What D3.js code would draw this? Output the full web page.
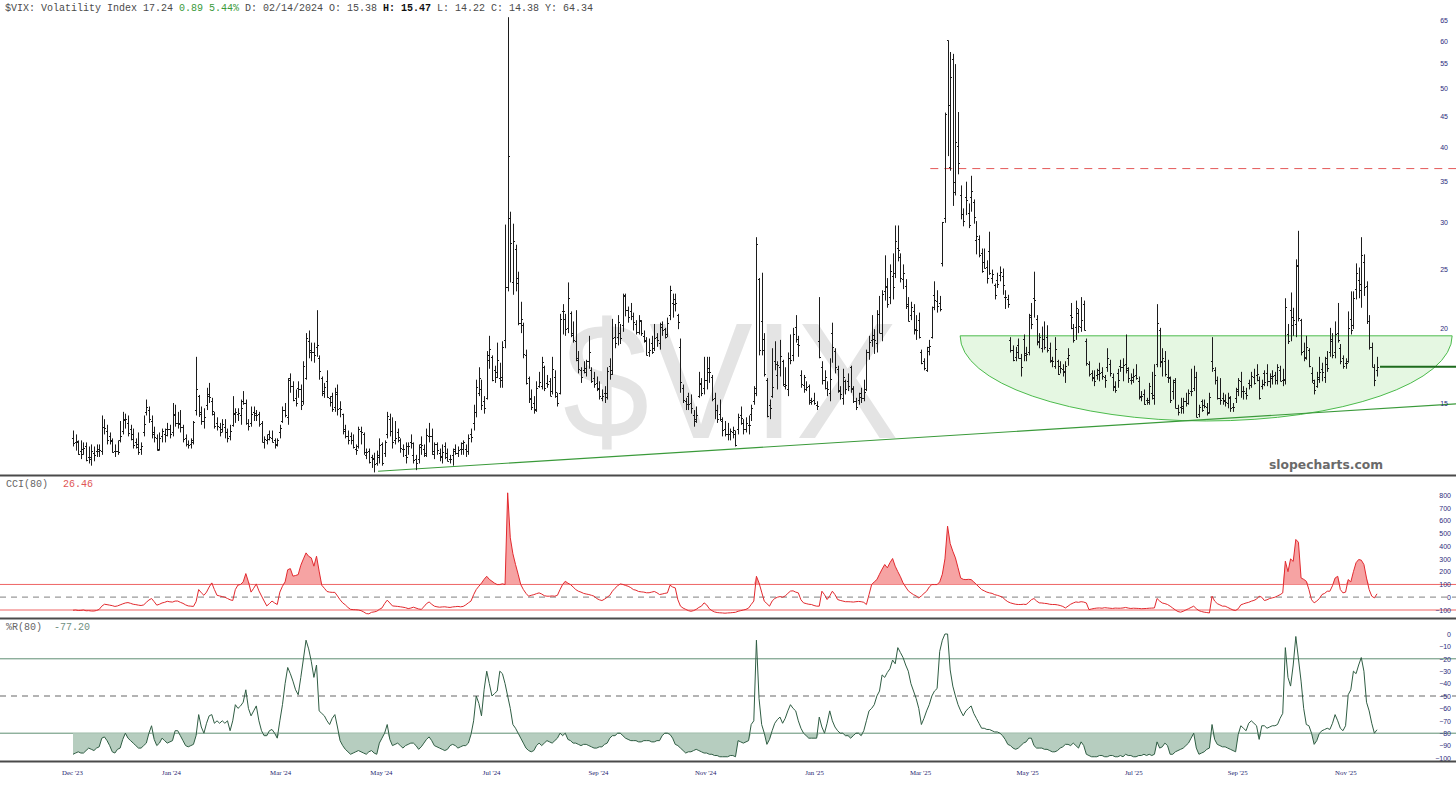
<!DOCTYPE html>
<html><head><meta charset="utf-8">
<script src="https://cdn.jsdelivr.net/npm/d3@7/dist/d3.min.js"></script>
<style>body{margin:0;background:#fff;}svg{display:block;}</style>
</head><body>
<svg id="chart" width="1456" height="787"></svg>
<script>
// ---------- DATA (daily VIX bars, Dec 5 2023 .. Dec 1 2025) ----------
const opens = [
/*Dec23*/13.1,12.9,12.9,12.5,12.6,12.7,12.2,12.1,12.4,12.5,12.5,12.5,13.7,13.5,13.2,13.0,12.5,12.5,
/*Jan24*/13.0,13.5,14.1,13.9,13.6,13.3,12.9,12.8,12.6,13.4,14.5,14.6,14.0,13.4,13.1,12.6,13.2,13.3,13.6,13.6,13.4,
/*Feb24*/14.4,13.9,13.9,13.7,13.1,12.8,12.8,13.0,14.6,15.38,14.5,14.0,14.9,15.5,15.1,14.4,13.9,13.7,13.6,13.7,
/*Mar24*/13.4,13.2,13.8,14.4,14.4,14.3,15.1,15.0,13.9,13.9,14.5,14.3,14.4,13.9,12.9,13.0,13.3,13.1,13.0,12.8,
/*Apr24*/13.4,14.0,14.6,14.2,16.5,16.0,15.3,15.9,15.8,15.1,16.5,19.0,18.2,18.2,18.6,17.8,16.5,15.6,16.3,15.3,15.4,14.8,
/*May24*/15.5,14.7,14.4,13.6,13.2,13.2,13.0,12.6,12.7,13.5,13.3,12.3,12.5,12.2,12.1,11.9,12.2,12.8,12.4,13.3,14.1,13.5,
/*Jun24*/13.0,13.4,13.0,12.6,12.3,12.7,12.9,12.3,12.1,12.1,12.8,12.6,12.4,13.2,13.2,12.5,12.8,12.4,12.2,
/*Jul24*/12.7,12.4,12.1,12.3,12.6,12.4,12.6,12.6,12.6,12.5,13.3,13.9,14.5,15.6,15.8,15.1,15.3,17.7,17.9,17.0,16.9,16.5,
/*Aug24*/16.6,19.1,23.4,30.5,23.8,27.0,24.2,20.4,20.2,18.0,16.5,15.3,15.0,14.6,16.0,16.0,17.2,16.2,16.3,15.7,16.6,15.4,
/*Sep24*/15.6,21.3,20.7,20.0,21.2,19.6,19.0,17.8,17.0,17.0,16.9,17.6,17.0,16.5,16.2,15.8,15.3,15.6,15.6,17.3,
/*Oct24*/17.0,19.3,19.3,19.6,20.2,22.6,21.4,21.3,20.9,20.3,19.7,20.5,19.4,19.0,18.2,18.9,18.5,19.3,18.9,20.1,19.9,19.5,21.0,
/*Nov24*/22.0,22.3,21.0,18.6,15.9,15.1,15.4,15.0,14.3,14.1,15.4,16.2,15.9,16.4,16.9,16.6,15.3,14.6,14.4,14.0,
/*Dec24*/13.6,13.3,13.3,13.4,13.3,13.6,14.3,13.9,13.6,13.8,14.4,15.1,15.6,24.1,20.5,19.2,16.4,14.9,15.4,17.6,16.7,
/*Jan25*/17.2,17.6,16.0,15.8,17.8,18.0,20.1,18.8,16.7,16.1,15.8,16.0,15.2,15.2,14.9,19.0,17.2,16.4,15.9,15.6,
/*Feb25*/19.6,18.3,17.1,15.7,15.3,16.3,16.3,17.2,15.8,15.1,15.2,15.6,15.3,15.8,18.2,19.1,19.2,18.9,21.1,
/*Mar25*/19.6,23.0,23.4,22.5,24.4,24.7,27.2,26.2,24.1,23.5,21.9,21.0,21.3,19.8,20.6,18.2,17.6,17.0,18.6,19.3,22.7,
/*Apr25*/22.2,22.0,25.6,30.5,60.1,37.0,56.0,35.0,40.2,33.3,30.9,33.0,31.0,33.0,32.4,28.0,28.1,26.6,25.7,25.2,26.8,
/*May25*/24.2,23.6,24.0,24.5,24.4,22.5,22.3,19.1,18.4,17.9,18.7,17.8,19.2,18.0,18.2,21.0,22.4,20.7,19.0,18.5,19.2,
/*Jun25*/19.3,18.5,17.6,17.3,17.6,17.3,17.1,16.9,17.8,21.0,20.0,20.1,21.2,20.1,21.9,19.0,17.4,16.8,16.5,16.7,
/*Jul25*/17.0,16.9,16.6,17.2,17.4,16.6,16.0,16.8,17.3,17.2,17.4,17.0,16.4,16.6,16.7,16.3,15.4,15.5,15.2,15.2,15.6,15.3,
/*Aug25*/17.4,19.8,17.6,17.6,16.6,16.5,15.7,16.4,14.7,14.8,14.7,15.1,15.0,15.7,15.9,16.6,14.4,15.1,14.9,14.8,14.5,
/*Sep25*/17.6,17.0,16.4,15.3,15.3,15.2,15.0,15.3,14.8,15.3,15.8,16.3,15.7,15.6,16.2,16.1,16.6,16.7,16.4,16.0,16.8,
/*Oct25*/16.8,16.3,16.5,16.7,16.4,17.0,16.4,16.4,19.5,21.4,20.2,20.3,25.4,20.6,18.3,17.8,18.4,16.8,16.2,16.0,16.6,17.1,16.6,
/*Nov25*/17.8,18.2,19.2,18.2,19.6,18.5,17.8,17.5,17.6,20.7,20.2,23.2,24.0,23.1,25.7,23.5,20.5,18.6,17.2,17.0
];
const highs = [
/*Dec23*/13.5,13.3,13.0,13.0,12.9,12.9,12.7,12.8,12.7,12.8,12.8,14.3,14.1,13.8,13.4,13.1,12.8,13.0,
/*Jan24*/14.0,14.5,14.4,14.3,13.8,13.6,13.1,13.4,12.9,14.3,15.2,14.8,14.3,13.7,13.3,13.4,13.6,13.6,13.9,13.8,15.0,
/*Feb24*/14.9,14.5,14.6,13.8,13.3,13.0,13.1,14.0,17.9,15.47,14.8,14.7,15.9,16.2,15.3,14.5,14.2,13.9,14.1,14.1,
/*Mar24*/13.6,13.8,15.4,14.7,14.7,15.2,15.7,15.2,14.1,14.8,14.8,14.6,14.5,14.0,13.2,13.3,13.5,13.5,13.1,13.1,
/*Apr24*/13.8,14.8,15.0,16.5,16.8,16.3,15.8,16.3,16.1,17.6,19.6,19.8,18.9,18.9,21.4,18.0,16.6,16.2,17.0,15.4,15.6,15.9,
/*May24*/16.1,15.1,14.4,13.8,13.5,13.4,13.3,12.8,13.7,13.7,13.4,12.6,12.6,12.3,12.4,12.5,13.1,12.9,13.0,14.5,14.4,14.2,
/*Jun24*/14.0,13.6,13.1,12.8,12.9,12.9,13.3,12.9,12.3,12.8,13.2,12.8,13.6,13.9,13.6,12.9,12.9,12.6,12.8,
/*Jul24*/12.9,12.6,12.3,12.6,12.8,12.7,12.9,13.0,12.8,13.3,13.6,14.9,16.4,17.2,16.4,15.4,18.3,19.4,18.0,17.3,18.9,17.5,
/*Aug24*/19.0,29.7,65.7,31.2,29.8,27.5,24.8,22.1,20.4,18.4,16.6,15.8,15.4,16.3,16.9,17.9,17.3,16.7,16.5,17.9,17.0,15.6,
/*Sep24*/21.1,21.9,21.1,23.8,21.3,20.5,21.4,18.3,17.2,17.6,17.7,19.4,17.2,16.9,16.6,16.3,15.8,16.0,17.2,17.8,
/*Oct24*/20.7,20.3,21.0,20.3,22.8,22.8,21.7,22.0,21.2,20.6,21.0,20.6,19.8,19.3,19.2,19.4,20.3,19.6,20.4,20.5,20.0,20.8,23.5,
/*Nov24*/22.8,22.8,21.1,19.2,16.1,15.3,15.6,15.5,14.6,14.8,16.9,16.5,17.9,17.9,17.9,16.7,15.6,14.9,15.2,14.2,
/*Dec24*/14.0,13.9,13.6,13.7,13.5,14.4,14.8,14.1,14.2,14.3,14.9,16.0,28.3,24.2,24.7,19.6,16.5,15.2,18.5,19.0,17.6,
/*Jan25*/19.1,17.7,17.2,18.2,19.5,20.0,21.0,19.4,17.0,16.7,16.3,16.1,15.3,15.6,15.1,22.5,17.6,17.0,16.3,17.8,
/*Feb25*/20.4,18.5,17.3,16.0,17.1,16.4,16.8,17.3,16.0,15.3,15.6,15.9,16.4,18.4,19.4,21.0,19.9,21.4,22.6,
/*Mar25*/23.1,26.4,24.2,25.5,26.6,29.6,29.6,26.6,25.5,24.1,22.5,22.1,21.9,21.0,21.2,18.4,17.8,18.6,19.1,21.7,23.9,
/*Apr25*/23.1,22.6,30.0,45.6,60.1,57.5,57.1,54.9,45.7,34.5,31.6,35.0,32.2,35.8,32.7,30.1,28.5,27.1,27.1,25.9,28.9,
/*May25*/25.0,23.7,24.7,25.3,25.1,23.1,22.7,19.3,18.7,18.6,19.2,18.1,19.5,18.6,21.1,22.0,24.8,21.0,19.6,20.1,20.5,
/*Jun25*/20.2,18.9,17.9,19.3,17.7,17.6,17.4,17.6,18.5,22.0,20.3,22.2,21.5,22.5,22.2,19.2,17.6,17.0,17.0,17.1,
/*Jul25*/17.5,17.2,16.7,18.5,17.7,16.8,16.3,17.1,17.7,17.8,19.5,17.2,16.8,17.1,17.4,16.6,15.7,15.8,15.3,16.2,16.9,17.4,
/*Aug25*/21.9,20.0,18.5,18.3,17.7,16.6,16.4,16.5,14.9,15.3,15.3,15.6,15.8,17.1,17.3,16.9,14.9,15.2,15.2,15.0,15.6,
/*Sep25*/19.3,17.2,16.6,16.5,15.6,15.5,15.6,15.4,15.0,15.9,16.5,16.9,16.0,15.9,16.4,16.9,17.1,17.4,16.6,16.4,17.0,
/*Oct25*/17.4,16.8,17.0,16.9,17.4,17.3,17.1,22.4,20.3,22.9,21.6,26.0,29.0,20.7,18.9,19.4,18.5,17.2,16.4,16.9,17.9,17.5,17.9,
/*Nov25*/18.3,20.0,19.6,20.5,22.0,18.8,18.0,17.8,21.3,23.0,23.0,25.6,25.2,28.3,26.5,23.9,21.0,18.9,17.4,17.9
];
const lows = [
/*Dec23*/12.7,12.5,12.3,12.1,12.3,12.0,11.9,11.8,12.0,12.2,12.2,12.3,13.3,12.8,12.8,12.4,12.2,12.3,
/*Jan24*/12.9,13.3,13.6,13.2,13.0,12.6,12.6,12.3,12.3,13.2,14.3,13.9,13.1,12.9,12.5,12.5,12.9,12.9,13.2,13.1,13.2,
/*Feb24*/13.7,13.6,13.4,12.9,12.7,12.6,12.6,12.8,14.3,14.22,13.8,13.6,14.6,15.0,14.3,13.6,13.5,13.2,13.4,13.1,
/*Mar24*/12.9,13.0,13.7,13.9,14.0,13.8,14.9,13.8,13.5,13.7,14.0,14.0,13.7,12.9,12.6,12.8,13.0,12.9,12.6,12.7,
/*Apr24*/13.1,13.9,14.2,13.8,15.6,15.1,14.8,15.3,14.6,14.9,16.4,17.8,17.6,17.5,17.9,16.4,15.4,15.3,15.3,14.8,14.5,14.5,
/*May24*/14.3,14.2,13.3,13.1,12.8,12.8,12.6,12.3,12.6,12.8,12.3,12.1,11.9,11.7,11.5,11.8,11.9,11.8,12.2,13.1,13.2,12.6,
/*Jun24*/12.8,12.9,12.4,12.2,11.9,12.3,12.6,11.9,11.6,11.9,12.3,12.2,12.2,12.9,12.3,12.1,12.3,12.0,11.9,
/*Jul24*/12.1,12.0,11.9,11.8,12.3,12.2,12.3,12.3,12.2,12.3,12.9,13.5,14.2,15.4,14.6,14.4,15.2,17.1,16.3,16.2,16.5,15.9,
/*Aug24*/15.9,18.5,23.0,23.8,22.7,23.0,20.2,19.6,17.8,16.1,15.0,14.6,14.4,14.5,15.9,15.8,15.7,15.9,15.4,15.5,15.3,14.8,
/*Sep24*/15.5,19.5,19.4,19.6,19.3,18.9,17.6,16.8,16.2,16.8,16.6,17.1,16.2,15.9,15.7,15.2,15.1,15.0,15.2,16.4,
/*Oct24*/16.7,18.5,18.7,18.8,19.7,20.9,20.4,20.6,19.8,19.5,19.5,19.4,18.9,18.0,17.9,18.1,18.3,18.6,18.4,19.4,19.2,19.3,20.6,
/*Nov24*/20.8,21.3,19.9,15.6,15.0,14.6,14.6,14.4,13.7,13.9,15.3,15.4,15.5,15.8,16.2,15.1,14.1,13.9,14.0,13.2,
/*Dec24*/13.2,13.0,13.0,13.1,12.7,13.3,13.8,13.3,13.4,13.3,14.0,14.9,15.4,18.0,18.0,16.6,14.2,14.1,15.3,17.0,15.8,
/*Jan25*/16.6,16.0,15.8,15.4,17.4,17.6,18.9,17.9,15.9,15.6,15.7,14.9,14.9,14.9,14.6,17.8,16.1,15.8,15.4,15.1,
/*Feb25*/17.5,16.8,15.6,15.2,14.9,15.5,15.7,15.6,15.0,14.6,14.9,15.0,15.1,15.7,17.7,18.6,18.1,18.2,19.6,
/*Mar25*/19.0,22.2,21.6,21.9,22.3,24.2,25.8,23.8,23.2,21.5,20.5,20.6,19.5,19.1,19.2,17.4,17.0,16.9,18.0,19.2,21.4,
/*Apr25*/21.2,21.3,25.3,29.9,38.6,36.5,31.9,33.2,36.0,30.3,29.5,30.8,29.3,31.2,29.8,26.5,26.2,24.7,25.1,23.7,24.5,
/*May25*/23.7,22.3,23.3,23.9,22.7,21.5,21.6,18.2,17.6,17.6,17.8,16.6,17.6,17.6,18.0,19.9,20.8,18.7,18.5,18.2,18.4,
/*Jun25*/18.2,17.5,17.2,17.1,16.7,16.8,16.6,16.2,17.3,19.9,18.9,19.1,19.6,19.7,19.8,17.3,16.6,16.3,16.0,16.4,
/*Jul25*/16.3,16.4,15.9,16.9,16.6,15.7,15.6,15.9,16.9,16.3,16.8,16.2,16.1,16.2,16.4,15.2,15.1,14.9,14.9,14.9,15.2,14.9,
/*Aug25*/17.2,17.2,16.6,16.6,16.2,15.0,15.2,14.7,14.3,14.4,14.4,14.8,14.9,15.4,15.7,14.2,14.2,14.5,14.7,14.3,14.4,
/*Sep25*/16.9,16.1,15.2,14.9,14.9,14.8,14.7,14.5,14.5,15.0,15.4,15.3,15.2,15.2,15.8,15.9,16.1,16.3,15.2,15.8,16.0,
/*Oct25*/16.0,15.9,16.1,16.1,16.1,16.3,16.0,16.1,18.8,19.0,19.4,19.3,20.5,18.0,17.6,17.7,17.2,16.2,15.5,15.9,16.2,16.3,16.2,
/*Nov25*/16.9,17.9,17.8,17.8,18.9,17.4,17.1,17.1,17.5,19.5,19.9,22.3,22.4,21.6,22.6,20.3,18.4,17.2,16.0,16.6
];
const closes = [
/*Dec23*/12.85,12.97,12.35,12.35,12.63,12.07,12.19,12.48,12.28,12.56,12.53,13.67,13.65,13.03,12.99,12.43,12.47,12.45,
/*Jan24*/13.20,14.04,14.13,13.35,13.08,12.76,12.69,12.44,12.70,13.84,14.79,14.13,13.30,13.19,12.55,13.14,13.45,13.26,13.60,13.31,14.35,
/*Feb24*/13.88,13.85,13.67,13.06,12.83,12.79,12.93,13.93,15.85,14.38,14.01,14.24,15.42,15.34,14.54,13.75,13.74,13.43,13.84,13.40,
/*Mar24*/13.11,13.49,14.46,14.50,14.44,14.74,15.01,13.88,13.75,14.40,14.41,14.33,13.82,12.92,13.06,13.06,13.19,12.94,12.78,13.01,
/*Apr24*/13.65,14.61,14.33,16.35,16.03,15.19,14.98,15.80,14.91,17.31,19.23,18.40,18.21,18.00,18.71,16.94,15.69,15.97,15.37,15.03,14.67,15.65,
/*May24*/14.68,14.68,13.49,13.23,13.00,13.00,12.69,12.55,13.60,13.42,12.45,12.42,11.99,12.15,11.86,12.29,12.77,11.93,12.92,14.28,13.49,12.92,
/*Jun24*/13.11,13.16,12.63,12.58,12.22,12.74,12.85,12.04,11.94,12.66,12.75,12.30,13.28,13.20,12.33,12.84,12.55,12.24,12.44,
/*Jul24*/12.22,12.03,12.09,12.48,12.37,12.51,12.85,12.91,12.46,13.12,13.19,14.48,15.93,16.52,14.91,14.72,18.04,18.46,16.39,16.60,17.69,16.36,
/*Aug24*/18.59,23.39,38.57,27.71,27.85,23.79,20.37,20.71,18.12,16.19,15.23,14.80,14.65,15.88,16.27,17.55,15.86,16.15,15.43,17.11,15.65,15.00,
/*Sep24*/20.72,21.32,19.90,22.38,19.45,19.08,17.69,17.07,16.56,17.14,17.61,18.23,16.33,16.15,15.89,15.39,15.41,15.37,16.96,16.73,
/*Oct24*/19.26,18.90,20.49,19.21,22.64,21.42,20.86,20.93,20.46,19.70,20.64,19.58,19.11,18.03,18.37,18.20,19.24,19.08,20.33,19.80,19.34,20.35,23.16,
/*Nov24*/21.88,21.98,20.49,16.27,15.20,14.94,14.97,14.71,14.02,14.31,16.14,15.58,16.35,17.16,16.87,15.24,14.60,14.10,14.10,13.51,
/*Dec24*/13.34,13.30,13.45,13.54,12.77,14.19,14.18,13.58,13.92,13.81,14.69,15.87,27.62,18.36,18.36,16.78,14.27,14.73,15.95,17.40,17.35,
/*Jan25*/17.93,16.13,16.04,17.82,17.70,19.54,19.19,18.71,16.12,16.60,15.97,15.06,15.10,15.02,14.85,17.90,16.41,16.56,15.84,16.43,
/*Feb25*/18.62,17.21,15.77,15.50,16.54,15.81,16.02,15.89,15.10,14.77,15.35,15.27,15.66,18.21,18.98,19.43,19.10,21.13,19.63,
/*Mar25*/22.78,23.51,21.93,24.87,23.37,27.86,26.92,24.23,24.66,21.77,20.51,21.70,19.90,19.80,19.28,17.48,17.15,18.33,18.69,21.65,22.28,
/*Apr25*/21.77,21.51,30.02,45.31,46.98,52.33,33.62,40.72,37.56,30.89,30.12,32.64,29.65,33.82,30.57,28.45,26.47,24.84,25.15,24.17,24.70,
/*May25*/24.60,22.68,23.64,24.76,23.55,22.48,21.90,18.39,17.71,18.22,17.83,17.24,18.14,18.09,20.87,20.28,22.29,18.96,19.31,19.18,18.57,
/*Jun25*/18.36,17.69,17.61,18.48,16.77,17.16,16.95,17.26,18.02,20.82,19.11,21.60,20.14,20.62,19.83,17.48,16.76,16.59,16.32,16.73,
/*Jul25*/16.83,16.64,16.38,17.79,16.81,15.94,15.78,16.40,17.20,17.38,17.16,16.52,16.41,16.65,16.50,15.37,15.39,14.93,15.03,15.98,15.48,16.72,
/*Aug25*/20.38,17.52,17.85,16.77,16.57,15.15,16.25,14.73,14.49,14.83,15.09,14.99,15.57,15.69,16.60,14.22,14.79,14.62,14.85,14.43,15.36,
/*Sep25*/17.17,16.35,15.30,15.18,15.11,15.04,15.35,14.71,14.76,15.69,16.36,15.72,15.70,15.45,16.10,16.64,16.18,16.74,15.29,16.12,16.28,
/*Oct25*/16.29,16.63,16.65,16.37,17.24,16.30,16.43,21.66,19.03,20.81,20.64,25.31,20.78,18.23,17.87,18.60,17.30,16.37,15.79,16.42,16.92,16.91,17.44,
/*Nov25*/17.17,19.00,18.01,19.50,19.08,17.60,17.28,17.51,20.00,19.83,22.38,24.69,23.66,26.42,23.43,20.52,18.56,17.19,16.35,17.24
];
// CCI(80), one value per bar
const cci = [
-102,-100,-104,-103,-100,-106,-105,-108,-108,-104,-95,-70,-55,-58,-62,-66,-72,-68,-60,-52,
-45,-42,-48,-55,-58,-62,-65,-60,-40,-22,-10,-35,-62,-55,-45,-40,-32,-36,-38,-30,
-30,-40,-48,-60,-68,-70,-72,-35,60,35,15,40,80,112,60,15,10,5,0,-10,
-20,-26,60,95,100,120,185,120,40,70,104,50,10,-30,-68,-50,-30,-45,-57,40,
86,120,215,224,165,170,177,250,300,347,320,308,243,321,204,94,70,45,40,38,
38,10,-20,-44,-60,-80,-95,-97,-98,-100,-105,-115,-128,-130,-118,-115,-110,-95,-84,-50,
-23,-45,-68,-70,-72,-75,-78,-82,-89,-85,-78,-85,-92,-95,-75,-50,-37,-55,-70,-75,
-78,-76,-75,-78,-80,-76,-74,-72,-75,-72,-60,-44,-30,20,60,86,110,140,164,140,
125,110,99,99,105,99,817,465,340,256,180,99,60,30,8,15,20,28,34,25,
12,8,8,10,8,15,60,100,125,110,99,80,60,47,40,30,25,21,15,8,
-10,-20,-26,-15,0,15,47,70,90,104,100,92,86,75,60,55,45,42,40,35,
35,40,45,35,21,25,30,34,94,80,73,-20,-70,-85,-95,-105,-110,-105,-95,-80,
-70,-44,-60,-90,-105,-115,-120,-122,-123,-125,-123,-122,-120,-118,-110,-105,-100,-95,-85,-57,
-30,164,112,40,-31,-50,-70,-30,-10,0,5,0,10,30,48,50,40,34,-20,-44,
-50,-55,-57,-65,-70,-70,47,20,-18,10,47,20,-18,-25,-30,-35,-35,-36,-38,-35,
-33,-35,-40,-57,20,99,120,138,180,220,256,230,270,303,243,200,160,112,80,50,
34,20,10,-5,10,30,47,80,99,99,99,120,180,300,556,420,360,308,230,151,
140,138,140,138,120,100,80,60,50,40,34,30,20,15,8,0,-20,-35,-44,-50,
-55,-57,-57,-55,-57,-40,-20,-10,-30,-44,-45,-48,-50,-55,-57,-57,-60,-65,-72,-84,
-70,-55,-45,-37,-40,-35,-38,-45,-97,-92,-88,-85,-84,-86,-82,-84,-86,-88,-85,-86,
-86,-84,-80,-85,-88,-86,-87,-88,-90,-89,-88,-86,-85,-84,-10,-30,-45,-50,-57,-70,
-85,-100,-112,-117,-110,-100,-90,-80,-70,-90,-105,-112,-117,-120,-123,8,-30,-50,-60,-70,
-70,-80,-90,-100,-104,-90,-60,-52,-45,-40,-31,-25,-15,8,0,-26,-20,-10,-5,0,
10,20,34,282,200,300,280,452,430,151,140,125,60,-20,-44,-30,-10,21,30,47,
47,90,150,164,60,34,40,138,120,200,270,295,290,256,150,60,8,-5,26.46
];
// Williams %R(80), one value per bar
const pctR = [
-97,-96,-95,-96,-96,-94,-92,-93,-94,-92,-91,-84,-83,-86,-90,-95,-96,-93,-92,-85,
-80,-84,-86,-88,-90,-92,-92,-90,-88,-80,-74,-85,-90,-88,-84,-86,-88,-87,-86,-78,
-78,-82,-86,-90,-91,-90,-89,-82,-65,-75,-80,-72,-66,-65,-72,-70,-72,-70,-72,-70,
-78,-70,-57,-60,-58,-55,-45,-60,-66,-62,-58,-70,-78,-82,-82,-78,-77,-80,-84,-70,
-57,-40,-27,-32,-38,-45,-49,-35,-20,-5,-12,-22,-35,-25,-62,-64,-66,-70,-73,-68,
-65,-75,-86,-90,-93,-95,-97,-96,-95,-94,-95,-96,-97,-95,-94,-96,-97,-88,-84,-80,
-73,-85,-90,-89,-88,-90,-92,-90,-89,-88,-88,-90,-93,-91,-88,-85,-83,-86,-90,-91,
-92,-93,-94,-93,-90,-89,-90,-92,-91,-90,-90,-88,-81,-70,-50,-56,-66,-45,-30,-40,
-50,-48,-46,-30,-32,-40,-50,-60,-73,-76,-80,-84,-88,-92,-94,-95,-94,-90,-88,-90,
-88,-86,-87,-88,-86,-84,-80,-82,-80,-85,-86,-88,-88,-89,-90,-89,-89,-90,-91,-92,
-92,-91,-91,-89,-88,-84,-82,-82,-80,-80,-82,-84,-85,-86,-86,-86,-87,-87,-86,-86,
-86,-87,-87,-86,-86,-82,-80,-80,-81,-84,-89,-90,-92,-94,-96,-95,-95,-94,-93,-94,
-95,-96,-96,-97,-97,-98,-98,-99,-99,-99,-99,-98,-98,-99,-86,-87,-88,-87,-86,-73,
-70,-5,-52,-73,-80,-89,-85,-78,-72,-69,-67,-72,-68,-62,-57,-60,-62,-70,-76,-80,
-82,-84,-84,-84,-84,-67,-75,-80,-72,-62,-70,-75,-78,-80,-80,-82,-82,-84,-82,-80,
-80,-82,-78,-70,-62,-60,-57,-50,-46,-33,-35,-31,-28,-21,-24,-11,-15,-19,-25,-30,
-40,-46,-52,-60,-73,-68,-62,-57,-50,-46,-44,-14,-5,0,0,-29,-42,-50,-57,-62,
-66,-62,-60,-58,-64,-68,-72,-76,-76,-77,-77,-78,-79,-79,-80,-82,-85,-89,-90,-92,
-93,-92,-90,-88,-87,-84,-84,-90,-92,-92,-92,-93,-93,-94,-95,-95,-94,-92,-91,-89,
-89,-90,-88,-90,-92,-87,-90,-97,-98,-99,-99,-99,-98,-98,-99,-99,-98,-98,-99,-99,
-98,-99,-97,-98,-98,-99,-99,-98,-98,-97,-98,-97,-98,-97,-87,-92,-91,-88,-90,-97,
-97,-95,-94,-93,-92,-90,-88,-84,-80,-92,-97,-96,-95,-93,-92,-73,-85,-89,-90,-91,
-91,-92,-93,-94,-95,-81,-74,-76,-78,-72,-70,-72,-74,-85,-74,-74,-76,-75,-74,-74,
-73,-68,-64,-11,-35,-42,-25,-2,-20,-38,-60,-73,-74,-80,-89,-86,-80,-78,-77,-76,
-77,-72,-65,-70,-76,-78,-74,-49,-45,-30,-32,-25,-19,-30,-55,-62,-72,-80,-77.2
];
const priceTicks = [15,20,25,30,35,40,45,50,55,60,65];
const cciTicks = [800,700,600,500,400,300,200,100,0,-100];
const pctRTicks = [0,-10,-20,-30,-40,-50,-60,-70,-80,-90,-100];
const monthLabels = ["Dec '23","Jan '24","Mar '24","May '24","Jul '24","Sep '24","Nov '24","Jan '25","Mar '25","May '25","Jul '25","Sep '25","Nov '25"];
const monthBarIndex = [-0.4,37.4,79.1,117.6,159.7,200.5,241.4,283.0,323.5,364.4,404.9,444.6,485.9];
// annotations (bar index / price units)
const resistanceLevel = 36.8, resistanceFrom = 327.4;
const trendStart = [116.5, 11.55], trendEnd = [528.3, 14.95];
const bowlLeft = 338.8, bowlRight = 526.7, bowlTop = 19.4, bowlBottom = 14.0;
const lastClose = 17.24;
const cciLevels = [100, -100], cciMid = 0;
const pctRLevels = [-20, -80], pctRMid = -50;

// ---------- CHART ----------
const svg = d3.select("#chart");
const W = 1456;
const N = Math.min(opens.length, highs.length, lows.length, closes.length);
const x = d3.scaleLinear().domain([0, 498]).range([73, 1377]);
const yP = d3.scaleLog().domain([15, 65]).range([403, 20]);
const yC = d3.scaleLinear().domain([-100, 800]).range([610, 495]);
const yR = d3.scaleLinear().domain([-100, 0]).range([758, 634]);

svg.append("rect").attr("width", W).attr("height", 787).attr("fill", "#fff");

// watermark
svg.append("text").attr("x", 563).attr("y", 438)
  .attr("textLength", 336).attr("lengthAdjust", "spacingAndGlyphs")
  .style("font", "165px 'Liberation Sans', Arial, sans-serif")
  .attr("fill", "#e4e4e4").text("$VIX");

// bowl
const bx0 = x(bowlLeft), bx1 = x(bowlRight), byT = yP(bowlTop), byB = yP(bowlBottom);
const rx = (bx1 - bx0) / 2, ry = byB - byT;
svg.append("path")
  .attr("d", `M${bx0},${byT} A${rx},${ry} 0 0 0 ${bx1},${byT} Z`)
  .attr("fill", "rgba(150,225,140,0.25)").attr("stroke", "#4cbb4c").attr("stroke-width", 1);

// trendline
svg.append("line").attr("x1", x(trendStart[0])).attr("y1", yP(trendStart[1]))
  .attr("x2", x(trendEnd[0])).attr("y2", yP(trendEnd[1]))
  .attr("stroke", "#3a9a3a").attr("stroke-width", 1.1);

// resistance
svg.append("line").attr("x1", x(resistanceFrom)).attr("x2", W)
  .attr("y1", yP(resistanceLevel)).attr("y2", yP(resistanceLevel))
  .attr("stroke", "#e45a5a").attr("stroke-width", 1).attr("stroke-dasharray", "8,6");

// OHLC bars
const bars = d3.range(N).map(i => ({i, o: opens[i], h: highs[i], l: lows[i], c: closes[i]}));
svg.append("g").selectAll("path").data(bars).join("path")
  .attr("d", b => {
    const xx = Math.round(x(b.i)) + 0.5;
    const yo = Math.round(yP(b.o)) + 0.5, yc = Math.round(yP(b.c)) + 0.5;
    return `M${xx},${yP(b.h)}V${yP(b.l)}M${xx - 1.5},${yo}H${xx}M${xx},${yc}H${xx + 1.5}`;
  })
  .attr("stroke", "#1c1c1c").attr("stroke-width", 1).attr("fill", "none");

// last price line
svg.append("line").attr("x1", 1380).attr("x2", W).attr("y1", yP(lastClose)).attr("y2", yP(lastClose))
  .attr("stroke", "#1d6b1d").attr("stroke-width", 2);

// slopecharts
svg.append("text").attr("x", 1269).attr("y", 469).attr("textLength", 114).attr("lengthAdjust", "spacingAndGlyphs")
  .style("font", "bold 13px 'DejaVu Sans', Verdana, sans-serif").attr("fill", "#6a6a6a").text("slopecharts.com");

// price axis
const axFont = "7px 'Liberation Sans', Arial, sans-serif";
const pAx = svg.append("g").attr("transform", "translate(1451,0)")
  .call(d3.axisLeft(yP).tickValues(priceTicks).tickSize(0).tickPadding(3).tickFormat(d3.format("d")));
pAx.select(".domain").remove();
pAx.selectAll("text").style("font", axFont).attr("fill", "#2c2c7c");

// ---------- CCI panel ----------
cciLevels.forEach(v => svg.append("line").attr("x1", 0).attr("x2", W).attr("y1", yC(v)).attr("y2", yC(v))
  .attr("stroke", "#ef6464").attr("stroke-width", 1));
svg.append("line").attr("x1", 0).attr("x2", W).attr("y1", yC(cciMid)).attr("y2", yC(cciMid))
  .attr("stroke", "#9a9a9a").attr("stroke-width", 1.3).attr("stroke-dasharray", "6,5");
svg.append("path").datum(cci)
  .attr("d", d3.area().x((d, i) => x(i)).y0(yC(100)).y1(d => yC(Math.max(d, 100))))
  .attr("fill", "#f6a3a3");
svg.append("path").datum(cci)
  .attr("d", d3.line().x((d, i) => x(i)).y(d => yC(d)))
  .attr("fill", "none").attr("stroke", "#e2292e").attr("stroke-width", 1);
const cAx = svg.append("g").attr("transform", "translate(1454,0)")
  .call(d3.axisLeft(yC).tickValues(cciTicks).tickSize(0).tickPadding(3).tickFormat(d3.format("d")));
cAx.select(".domain").remove();
cAx.selectAll("text").style("font", axFont).attr("fill", "#2c2c7c");

// ---------- %R panel ----------
pctRLevels.forEach(v => svg.append("line").attr("x1", 0).attr("x2", W).attr("y1", yR(v)).attr("y2", yR(v))
  .attr("stroke", "#5e8e72").attr("stroke-width", 1));
svg.append("line").attr("x1", 0).attr("x2", W).attr("y1", yR(pctRMid)).attr("y2", yR(pctRMid))
  .attr("stroke", "#9a9a9a").attr("stroke-width", 1.3).attr("stroke-dasharray", "6,5");
svg.append("path").datum(pctR)
  .attr("d", d3.area().x((d, i) => x(i)).y0(yR(-80)).y1(d => yR(Math.min(d, -80))))
  .attr("fill", "#b6cdbf");
svg.append("path").datum(pctR)
  .attr("d", d3.line().x((d, i) => x(i)).y(d => yR(d)))
  .attr("fill", "none").attr("stroke", "#2f5d43").attr("stroke-width", 1);
const rAx = svg.append("g").attr("transform", "translate(1454,0)")
  .call(d3.axisLeft(yR).tickValues(pctRTicks).tickSize(0).tickPadding(3).tickFormat(d3.format("d")));
rAx.select(".domain").remove();
rAx.selectAll("text").style("font", axFont).attr("fill", "#2c2c7c");

// panel separators
[475.5, 618.5, 761.5].forEach(yy => svg.append("line").attr("x1", 0).attr("x2", W).attr("y1", yy).attr("y2", yy)
  .attr("stroke", "#4a4a4a").attr("stroke-width", 2));

// x axis
const xAx = svg.append("g").attr("transform", "translate(0,762)")
  .call(d3.axisBottom(x).tickValues(monthBarIndex).tickSize(0).tickPadding(8).tickFormat((d, i) => monthLabels[i]));
xAx.select(".domain").remove();
xAx.selectAll("text").style("font", "6.8px 'Liberation Serif', 'Times New Roman', serif").attr("fill", "#22226e");

// header
const mono = "10px 'Liberation Mono', 'Courier New', monospace";
const hdr = svg.append("text").attr("x", 5).attr("y", 11).style("font", mono).attr("fill", "#4a4a4a")
  .attr("xml:space", "preserve");
hdr.append("tspan").text("$VIX: Volatility Index 17.24 ");
hdr.append("tspan").attr("fill", "#3a9a3a").text("0.89 5.44%");
hdr.append("tspan").text(" D: 02/14/2024 O: 15.38 ");
hdr.append("tspan").attr("font-weight", "bold").attr("fill", "#111").text("H: 15.47");
hdr.append("tspan").text(" L: 14.22 C: 14.38 Y: 64.34");

svg.append("text").attr("x", 6).attr("y", 487).style("font", mono).attr("fill", "#666").text("CCI(80)");
svg.append("text").attr("x", 63).attr("y", 487).style("font", mono).attr("fill", "#e05555").text(cci[cci.length - 1].toFixed(2));
svg.append("text").attr("x", 6).attr("y", 630).style("font", mono).attr("fill", "#666").text("%R(80)");
svg.append("text").attr("x", 54).attr("y", 630).style("font", mono).attr("fill", "#6f8f7f").text(pctR[pctR.length - 1].toFixed(2));

if (opens.length !== 499 || highs.length !== 499 || lows.length !== 499 || closes.length !== 499 || cci.length !== 499 || pctR.length !== 499) {
  svg.append("text").attr("x", 300).attr("y", 40).attr("fill", "red").style("font", "14px sans-serif")
    .text(`len o${opens.length} h${highs.length} l${lows.length} c${closes.length} cci${cci.length} r${pctR.length}`);
}
</script>
</body></html>
